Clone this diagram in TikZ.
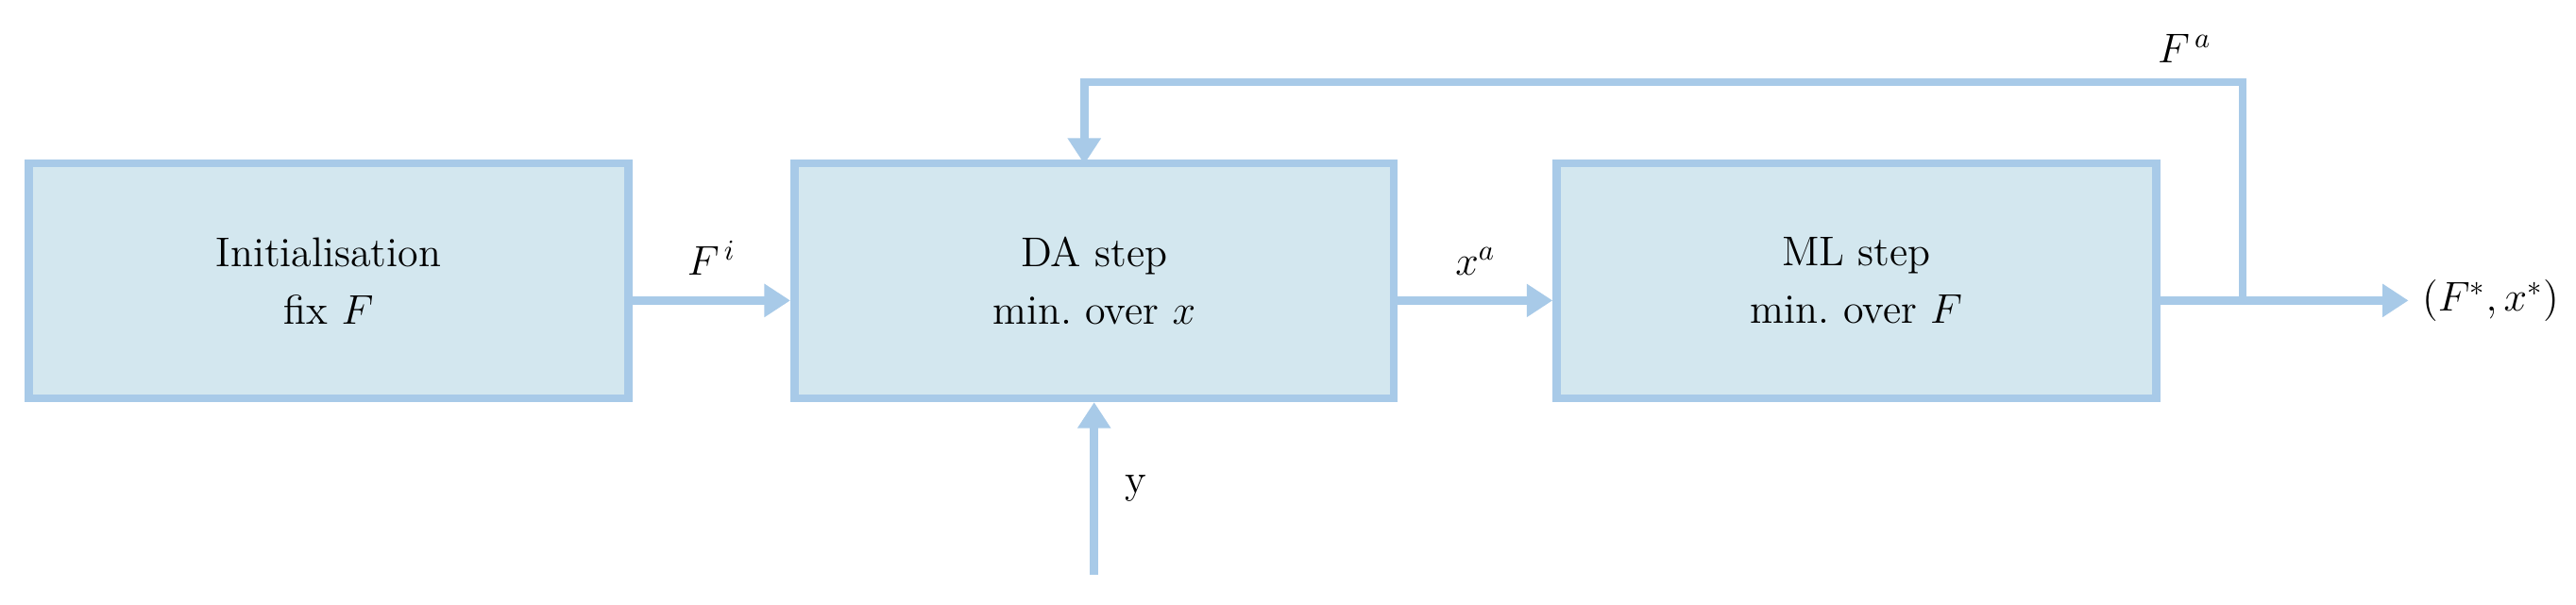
\documentclass[tikz,border=0pt]{standalone}
\usepackage{amsmath}
\usepackage{xcolor}
\definecolor{boxfill}{HTML}{D3E7EF}
\definecolor{boxline}{HTML}{A8CAE8}
\usepackage{tikz}
\usetikzlibrary{arrows.meta,positioning}

\begin{document}
\begin{tikzpicture}[x=0.02cm,y=-0.02cm,>={Triangle[length=9pt,width=11pt]},line width=2.8pt,font=\Large]
              \tikzstyle{blk}=[draw=boxline,fill=boxfill,minimum width=7.3cm,minimum height=2.86cm,align=center,inner sep=0pt]
              \tikzstyle{ln}=[draw=boxline,->]
              \useasboundingbox (0,0) rectangle (1568,368);

              \node[blk] (init) at (200,171) {Initialisation\\[2pt] fix $F$};
              \node[blk] (da)   at (666,171) {DA step\\[2pt] min.\ over $x$};
              \node[blk] (ml)   at (1130,171) {ML step\\[2pt] min.\ over $F$};
              \node (out) [anchor=west] at (1466,183) {$(F^{*},x^{*})$};
              \coordinate (split) at (1365,183);
              \coordinate (yin) at (666,350);

              \path[ln] (init.east |- out.west) -- node[above=4pt,black] {$F^{\,i}$} (da.west |- out.west);
              \path[ln] (da.east |- out.west) -- node[above=4pt,black] {$x^{a}$} (ml.west |- out.west);
              \path[ln] (ml.east |- out.west) -- (out.west);
              \path[ln] (split) -- (1365,50) -- node[pos=0.05,above=2pt,black] {$F^{\,a}$} (660,50) -- (660,100);
              \path[ln] (yin) -- node[right=6pt,black] {y} (da.south);
       \end{tikzpicture}
\end{document}
